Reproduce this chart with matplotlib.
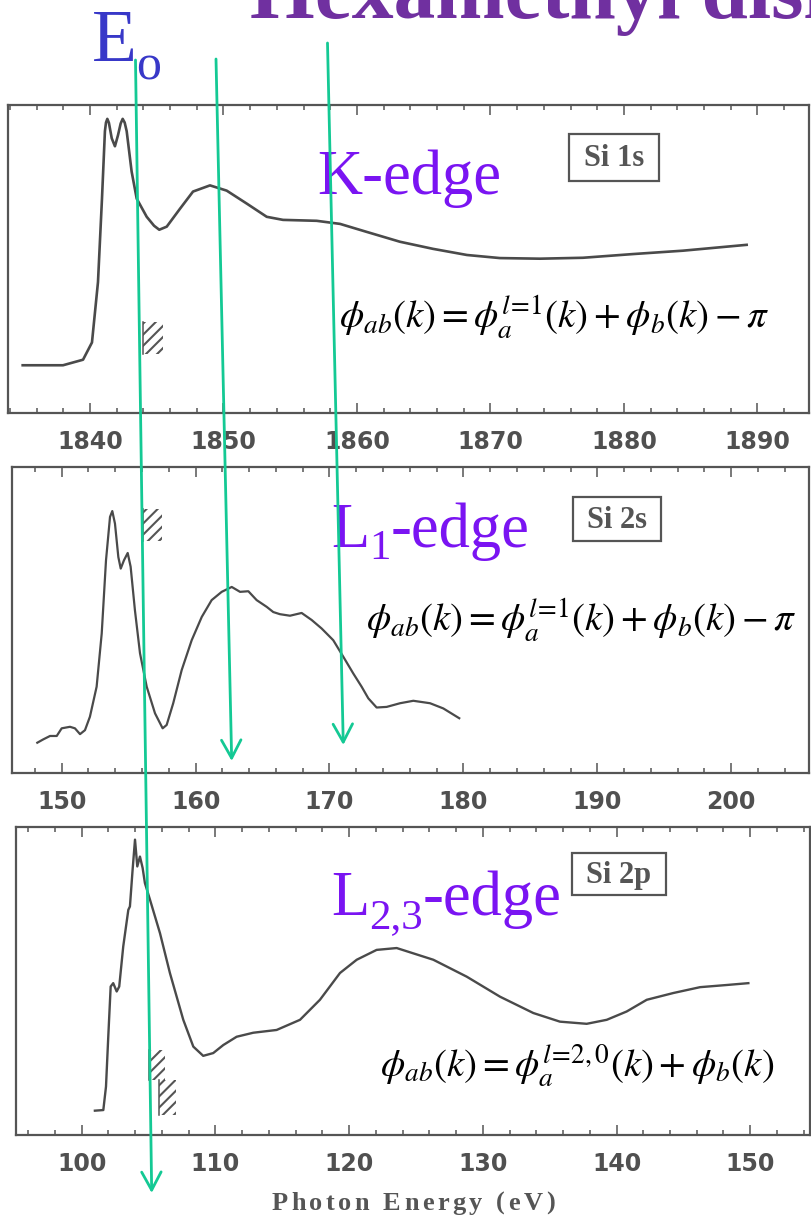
import matplotlib
matplotlib.use("Agg")
import matplotlib.pyplot as plt
from matplotlib.patches import Rectangle
from matplotlib.ticker import MultipleLocator

plt.rcParams['mathtext.fontset'] = 'stix'

# Si 1s spectrum (K-edge)
k_energy = [1834.96, 1837.98, 1839.48, 1840.15, 1840.60, 1840.90, 1841.12, 1841.20, 1841.30,
            1841.42, 1841.63, 1841.87, 1842.10, 1842.30, 1842.45, 1842.60, 1842.75, 1843.12,
            1843.50, 1844.25, 1844.80, 1845.19, 1845.75, 1846.74, 1847.72, 1848.99, 1850.24,
            1851.74, 1853.24, 1854.46, 1856.98, 1858.73, 1860.73, 1863.22, 1865.69, 1868.24,
            1870.71, 1873.71, 1876.93, 1880.67, 1884.42, 1889.19]
k_signal = [15.5, 15.5, 17.3, 22.9, 42.5, 69.6, 91.5, 94.3, 95.5,
            94.2, 89.2, 86.6, 90.2, 94.0, 95.5, 94.3, 91.5, 78.4,
            69.6, 63.7, 60.8, 59.5, 60.5, 66.3, 71.9, 73.9, 72.2,
            68.0, 63.7, 62.7, 62.4, 61.4, 58.8, 55.6, 53.3, 51.3,
            50.3, 50.1, 50.4, 51.6, 52.7, 54.6]

# Si 2s spectrum (L1-edge)
l1_energy = [148.18, 148.63, 149.13, 149.63, 150.00, 150.62, 150.99, 151.37, 151.74, 152.11,
             152.61, 152.99, 153.31, 153.61, 153.78, 153.98, 154.23, 154.41, 154.65, 154.93,
             155.15, 155.47, 155.85, 156.35, 156.97, 157.54, 157.84, 158.33, 158.96, 159.71,
             160.46, 161.20, 161.95, 162.70, 163.32, 163.94, 164.56, 165.31, 165.80, 166.30,
             167.05, 167.92, 168.67, 169.42, 170.28, 171.03, 171.78, 172.40, 172.90, 173.52,
             174.27, 175.27, 176.26, 177.51, 178.50, 179.69]
l1_signal = [9.9, 11.0, 12.1, 12.1, 14.6, 15.1, 14.6, 12.7, 14.0, 18.4,
             28.2, 45.6, 69.5, 83.7, 85.6, 81.5, 70.6, 66.8, 69.5, 71.9,
             67.4, 53.2, 39.1, 28.2, 19.5, 14.6, 15.7, 22.8, 33.6, 43.4,
             51.0, 56.5, 59.2, 60.8, 59.2, 59.4, 56.5, 54.3, 52.6, 51.9,
             51.4, 52.3, 50.0, 47.2, 43.4, 38.0, 32.5, 28.2, 24.4, 21.4,
             21.6, 22.8, 23.6, 22.8, 21.1, 17.9]

# Si 2p spectrum (L2,3-edge)
l23_energy = [100.99, 101.62, 101.82, 101.99, 102.17, 102.36, 102.62, 102.81, 103.11, 103.49,
              103.61, 103.81, 103.99, 104.16, 104.36, 104.56, 104.73, 105.11, 105.86, 106.60,
              107.60, 108.35, 109.09, 109.84, 110.59, 111.59, 112.83, 114.58, 116.33, 117.82,
              119.32, 120.57, 122.06, 123.56, 126.30, 128.80, 131.29, 133.78, 135.77, 137.77,
              139.27, 140.76, 142.26, 144.25, 146.25, 148.24, 149.86]
l23_signal = [7.9, 8.1, 15.7, 31.9, 48.2, 49.3, 46.6, 48.2, 61.2, 73.1,
              74.2, 86.1, 95.9, 87.2, 90.4, 86.7, 81.8, 76.4, 65.5, 52.6,
              37.4, 28.7, 25.7, 26.6, 29.2, 31.9, 33.2, 34.1, 37.4, 43.9,
              52.6, 56.9, 60.1, 60.7, 56.9, 51.4, 44.9, 39.6, 36.8, 36.1,
              37.4, 40.1, 43.9, 46.1, 48.0, 48.7, 49.3]

k_ticks = [1840, 1850, 1860, 1870, 1880, 1890]
l1_ticks = [150, 160, 170, 180, 190, 200]
l23_ticks = [100, 110, 120, 130, 140, 150]

# hatched edge markers: (start, end, low, high)
k_hatch = [(1844.0, 1845.5, 19.3, 29.4)]
l1_hatch = [(156.1, 157.5, 75.7, 86.2)]
l23_hatch = [(105.0, 106.2, 17.9, 27.6), (105.8, 107.05, 6.5, 17.9)]

gray = '#555555'
curve = '#4a4a4a'
violet = '#7a14f2'
green = '#14c994'

W, H = 811, 1219
fig = plt.figure(figsize=(W / 100, H / 100), dpi=100)
plt.rcParams['hatch.linewidth'] = 1.5


def frac(left, top, right, bottom):
    return [left / W, 1 - bottom / H, (right - left) / W, (bottom - top) / H]


def panel(rect, energy, signal, xlim, ticks, hatch, lw):
    ax = fig.add_axes(rect)
    ax.plot(energy, signal, color=curve, lw=lw, solid_joinstyle='round')
    for e0, e1, lo, hi in hatch:
        ax.add_patch(Rectangle((e0, lo), e1 - e0, hi - lo, fill=False, hatch='///',
                               edgecolor=gray, lw=0))
        ax.plot([e0, e0], [lo, hi], color=gray, lw=1.1)
    ax.set_xlim(xlim)
    ax.set_ylim(0, 100)
    ax.set_yticks([])
    ax.set_xticks(ticks)
    ax.set_xticklabels([str(t) for t in ticks], fontweight='bold', family='DejaVu Sans')
    ax.xaxis.set_minor_locator(MultipleLocator(2))
    ax.tick_params(axis='x', which='both', direction='in', top=True, color=gray,
                   width=1.1, pad=12, labelsize=17, labelcolor='#505050')
    ax.tick_params(axis='x', which='major', length=7)
    ax.tick_params(axis='x', which='minor', length=3.5)
    for s in ax.spines.values():
        s.set_color(gray)
        s.set_linewidth(1.6)
    return ax


panel(frac(8, 105, 809, 413), k_energy, k_signal, (1833.86, 1893.86), k_ticks, k_hatch, 1.9)
panel(frac(12, 467, 809, 773), l1_energy, l1_signal, (146.29, 205.81), l1_ticks, l1_hatch, 1.6)
panel(frac(16, 827, 810, 1135), l23_energy, l23_signal, (95.09, 154.47), l23_ticks, l23_hatch, 1.7)

# annotation layer in pixel coordinates
ov = fig.add_axes([0, 0, 1, 1], zorder=10)
ov.set_xlim(0, W)
ov.set_ylim(H, 0)
ov.axis('off')
ov.patch.set_alpha(0)
renderer = fig.canvas.get_renderer()


def width(s, **kw):
    t = ov.text(0, 0, s, **kw)
    w = t.get_window_extent(renderer).width
    t.remove()
    return w


def pieces(x, y, parts, **kw):
    # parts: (text, fontsize, baseline shift)
    for s, size, dy in parts:
        ov.text(x, y + dy, s, fontsize=size, va='baseline', ha='left', **kw)
        x += width(s, fontsize=size, **kw)


ov.text(250, 18, 'Hexamethyl disilane', fontsize=60, fontweight='bold',
        family='Liberation Serif', color='#7030A0', va='baseline')
ov.text(92, 61, 'E', fontsize=53, family='Liberation Serif', color='#3838c8', va='baseline')
ov.text(136, 80, 'o', fontsize=36, family='Liberation Serif', color='#3838c8', va='baseline')

serif = dict(family='Liberation Serif', color=violet)
pieces(317, 194, [('K-edge', 45, 0)], **serif)
pieces(331, 547, [('L', 45, 0), ('1', 31, 12), ('-edge', 45, 0)], **serif)
pieces(331, 915, [('L', 45, 0), ('2,3', 31, 13), ('-edge', 45, 0)], **serif)

ov.text(339, 317, r'$\phi_{ab}(k) = \phi_a^{l\!=\!1}(k) + \phi_b(k) - \pi$', fontsize=28,
        va='center', ha='left')
ov.text(366, 620, r'$\phi_{ab}(k) = \phi_a^{l\!=\!1}(k) + \phi_b(k) - \pi$', fontsize=28,
        va='center', ha='left')
ov.text(380, 1066, r'$\phi_{ab}(k) = \phi_a^{l\!=\!2,0}(k) + \phi_b(k)$', fontsize=28,
        va='center', ha='left')

for (x0, y0, x1, y1), name in zip([(569, 134, 659, 181), (573, 497, 661, 541), (572, 853, 666, 895)],
                                  ['Si 1s', 'Si 2s', 'Si 2p']):
    ov.add_patch(Rectangle((x0, y0), x1 - x0, y1 - y0, fill=False, ec=gray, lw=1.6))
    ov.text((x0 + x1) / 2, (y0 + y1) / 2 + 1, name, ha='center', va='center', fontsize=22,
            fontweight='bold', family='Liberation Serif', color=gray)

for start, end in [((135.5, 60), (151.7, 1193)), ((216, 59), (231.7, 761)), ((327.5, 43), (343.3, 745))]:
    ov.annotate('', xy=end, xytext=start,
                arrowprops=dict(arrowstyle='->,head_length=1.3,head_width=0.7', color=green,
                                lw=2.0, shrinkA=0, shrinkB=0, mutation_scale=10))

# axis title with letter spacing
kw = dict(fontsize=19, fontweight='bold', family='Liberation Serif', color=gray)
label = 'Photon Energy (eV)'
base = width('||', **kw)
widths = [width('|' + ch + '|', **kw) - base for ch in label]
track = 3.5
total = sum(widths) + track * (len(label) - 1)
x = 413 - total / 2
for ch, w in zip(label, widths):
    ov.text(x, 1210, ch, ha='left', va='baseline', **kw)
    x += w + track

fig.savefig('out.png', dpi=100)
